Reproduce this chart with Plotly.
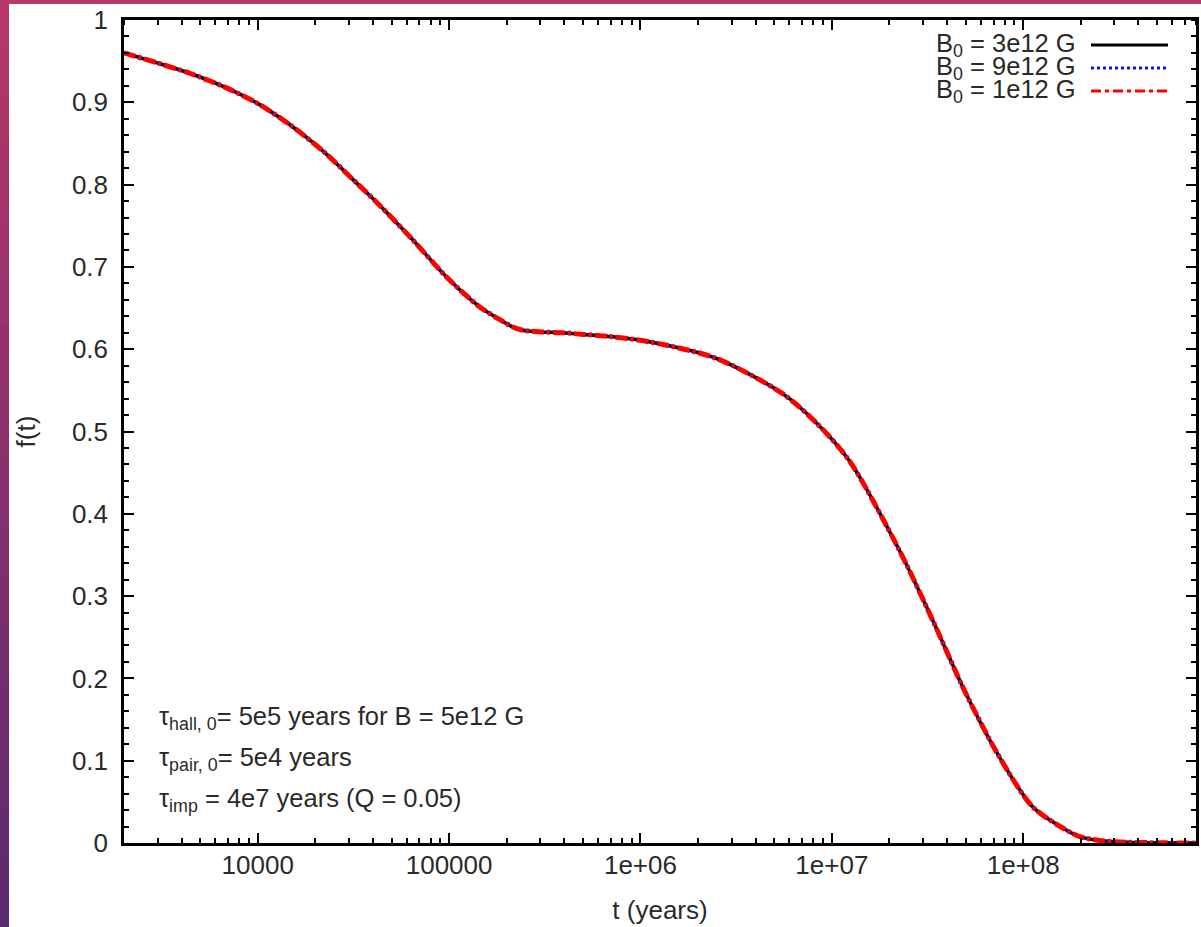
import plotly.graph_objects as go

# ---------------- data ----------------
t_years = [2000, 2978, 4446, 6640, 9920, 14800, 22100, 33000, 43300, 64700,
           96600, 144000, 190000, 215000, 242700, 300000, 393000, 500000,
           716000, 1110000, 2480000, 5530000, 8260000, 12300000, 22500000,
           33600000, 50100000, 74900000, 112000000, 167000000, 196000000,
           250000000, 350000000, 500000000, 800000000]
f_B3 = [0.960, 0.948, 0.935, 0.919, 0.899, 0.8724, 0.840, 0.8015, 0.775, 0.7327,
        0.688, 0.6517, 0.634, 0.627, 0.623, 0.621, 0.620, 0.618,
        0.615, 0.609, 0.589, 0.546, 0.511, 0.465, 0.356,
        0.271, 0.182, 0.105, 0.044, 0.016, 0.008,
        0.003, 0.001, 0.0003, 0.0]
f_B9 = list(f_B3)
f_B1 = list(f_B3)

series_names = ["B<sub>0</sub> = 3e12 G", "B<sub>0</sub> = 9e12 G", "B<sub>0</sub> = 1e12 G"]

x_tickvals = [1e4, 1e5, 1e6, 1e7, 1e8]
x_ticktext = ["10000", "100000", "1e+06", "1e+07", "1e+08"]
x_minor_vals = [k * 10 ** d for d in range(3, 9) for k in range(2, 10)]
y_tickvals = [0, 0.1, 0.2, 0.3, 0.4, 0.5, 0.6, 0.7, 0.8, 0.9, 1.0]
y_ticktext = ["0", "0.1", "0.2", "0.3", "0.4", "0.5", "0.6", "0.7", "0.8", "0.9", "1"]
x_log_range = [3.30103, 8.90309]   # 2000 .. 8e8

notes = ["τ<sub>hall, 0</sub>= 5e5 years for B = 5e12 G",
         "τ<sub>pair, 0</sub>= 5e4 years",
         "τ<sub>imp</sub> = 4e7 years (Q = 0.05)"]

# ---------------- layout geometry ----------------
W, H = 1201, 927
L, R, T, B = 124, 1196, 20, 843  # plot frame in pixels


def px(x):
    return (x - L) / (R - L)


def py(y):
    return (B - y) / (B - T)


FONT = "Liberation Sans, Arial, Helvetica, sans-serif"
TXT = "#2a2a2a"
FS = 26
FS_NOTE = 25.5

fig = go.Figure()
styles = [
    dict(color="black", width=3.5, dash="solid"),
    dict(color="#1010ff", width=3.5, dash="dot"),
    dict(color="#ff0000", width=5, dash="12px,3px,3px,3px"),
]
for name, ys, st in zip(series_names, [f_B3, f_B9, f_B1], styles):
    fig.add_trace(go.Scatter(x=t_years, y=ys, mode="lines", name=name,
                             line=dict(shape="spline", smoothing=0.8, **st),
                             showlegend=False))
# helper trace so the mirrored (top/right) axes carrying minor ticks are drawn
fig.add_trace(go.Scatter(x=[], y=[], xaxis="x2", yaxis="y2", showlegend=False,
                         hoverinfo="skip"))

shapes = []
# decorative border (slide background): top band and left gradient band
shapes.append(dict(type="rect", xref="paper", yref="paper", x0=px(0), x1=px(W),
                   y0=py(4), y1=py(0), fillcolor="#b63a6c", line_width=0, layer="below"))
n = 40
top_c = (182, 56, 106)
bot_c = (92, 42, 112)
for i in range(n):
    a = i / (n - 1)
    c = tuple(int(top_c[k] + (bot_c[k] - top_c[k]) * a) for k in range(3))
    y0 = H * i / n
    y1 = H * (i + 1) / n + 1
    shapes.append(dict(type="rect", xref="paper", yref="paper", x0=px(0), x1=px(9),
                       y0=py(y1), y1=py(y0), fillcolor="rgb(%d,%d,%d)" % c,
                       line_width=0, layer="below"))

annotations = []
# gnuplot-style key (text right-aligned, line sample to the right)
leg_y = [45, 68, 91]
leg_dash = ["solid", "dot", "10px,4px,4px,4px"]
for name, yy, st, dsh in zip(series_names, leg_y, styles, leg_dash):
    annotations.append(dict(x=px(1078), y=py(yy), xref="paper", yref="paper",
                            text=name, showarrow=False, xanchor="right", yanchor="middle",
                            font=dict(family=FONT, size=FS_NOTE, color=TXT)))
    shapes.append(dict(type="line", xref="paper", yref="paper",
                       x0=px(1091), x1=px(1168), y0=py(yy), y1=py(yy),
                       line=dict(color=st["color"], width=3, dash=dsh)))

note_y = [718, 759, 800]
for txt, yy in zip(notes, note_y):
    annotations.append(dict(x=px(157), y=py(yy), xref="paper", yref="paper",
                            text=txt, showarrow=False, xanchor="left", yanchor="middle",
                            font=dict(family=FONT, size=FS_NOTE, color=TXT)))

axis_common = dict(showgrid=False, zeroline=False, showline=True, linecolor="black",
                   linewidth=2.5, mirror="allticks", ticks="inside", tickcolor="black",
                   tickwidth=2, ticklen=10, automargin=False,
                   tickfont=dict(family=FONT, size=FS, color=TXT))
minor_x = dict(ticks="inside", ticklen=5, tickwidth=2, tickcolor="black",
               tickmode="array", tickvals=x_minor_vals)
minor_y = dict(ticks="inside", ticklen=5, tickwidth=2, tickcolor="black", dtick=0.02)

fig.update_layout(
    xaxis=dict(type="log", range=x_log_range, tickvals=x_tickvals, ticktext=x_ticktext,
               minor=minor_x, ticklabelstandoff=-3,
               title=dict(text="t (years)", font=dict(family=FONT, size=FS, color=TXT), standoff=22),
               **axis_common),
    yaxis=dict(range=[0, 1], tickvals=y_tickvals, ticktext=y_ticktext,
               minor=minor_y, ticklabelstandoff=8,
               title=dict(text="f(t)", font=dict(family=FONT, size=FS, color=TXT), standoff=29),
               **axis_common),
    xaxis2=dict(type="log", range=x_log_range, overlaying="x", side="top", anchor="y",
                showgrid=False, zeroline=False, showline=False, showticklabels=False,
                tickvals=x_tickvals, ticks="", minor=minor_x, automargin=False),
    yaxis2=dict(range=[0, 1], overlaying="y", side="right", anchor="x",
                showgrid=False, zeroline=False, showline=False, showticklabels=False,
                tickvals=y_tickvals, ticks="", minor=minor_y, automargin=False),
    width=W, height=H, margin=dict(l=L, r=W - R, t=T, b=H - B, autoexpand=False),
    paper_bgcolor="white", plot_bgcolor="white",
    shapes=shapes, annotations=annotations, showlegend=False)

fig.write_html("out.html", config={"displayModeBar": False},
               post_script="document.body.style.margin='0px';document.body.style.overflow='hidden';")
